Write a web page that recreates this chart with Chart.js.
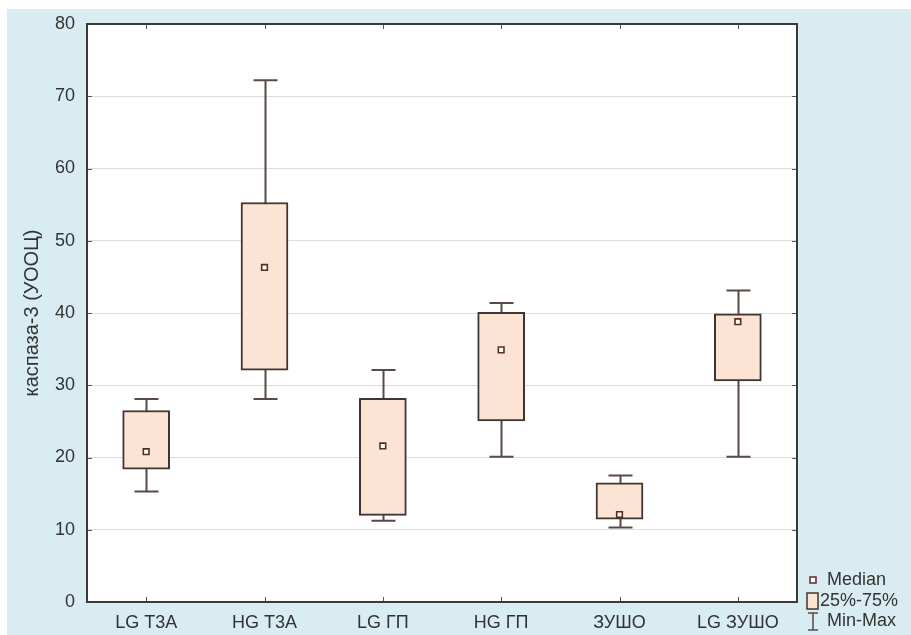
<!DOCTYPE html>
<html>
<head>
<meta charset="utf-8">
<script src="https://cdn.jsdelivr.net/npm/chart.js@4.4.1/dist/chart.umd.min.js"></script>
<style>
  html, body { margin: 0; padding: 0; background: #ffffff; }
  #c { display: block; }
</style>
</head>
<body>
<canvas id="c" width="911" height="635"></canvas>
<script>
// Groups and their summary statistics (каспаза-3, УООЦ)
const categories = ['LG T3A', 'HG T3A', 'LG ГП', 'HG ГП', 'ЗУШО', 'LG ЗУШО'];
const minValues    = [15.3, 28.1, 11.25, 20.1, 10.3, 20.1];
const q1Values     = [18.4, 32.1, 12.0, 25.05, 11.45, 30.6];
const medianValues = [20.8, 46.3, 21.6, 34.9, 12.1, 38.8];
const q3Values     = [26.5, 55.3, 28.2, 40.1, 16.5, 39.9];
const maxValues    = [28.1, 72.2, 32.1, 41.4, 17.5, 43.1];
const yTicks = [0, 10, 20, 30, 40, 50, 60, 70, 80];

const FONT = "'Liberation Sans', Arial, sans-serif";
const BOX_FILL = '#fce4d5';
const BOX_EDGE = '#3f3633';
const WHISKER = '#5a4a46';
const MEDIAN_EDGE = '#5b2b1f';

// Page background: white margin strip with a pale blue field
const backgroundPlugin = {
  id: 'background',
  beforeDraw(chart) {
    const ctx = chart.ctx;
    ctx.save();
    ctx.fillStyle = '#ffffff';
    ctx.fillRect(0, 0, chart.width, chart.height);
    ctx.fillStyle = '#d9ecf2';
    ctx.fillRect(7, 9, chart.width - 7, chart.height - 9);
    const a = chart.chartArea;
    ctx.fillStyle = '#ffffff';
    ctx.fillRect(a.left, a.top, a.right - a.left, a.bottom - a.top);
    ctx.restore();
  }
};

// Whiskers (min–max) with caps, drawn beneath the boxes
const whiskerPlugin = {
  id: 'whiskers',
  beforeDatasetsDraw(chart) {
    const ctx = chart.ctx;
    const xs = chart.scales.x, ys = chart.scales.y;
    ctx.save();
    ctx.strokeStyle = WHISKER;
    ctx.lineWidth = 2;
    categories.forEach((c, i) => {
      const x = Math.round(xs.getPixelForValue(i)) + 0.5;
      const yMin = ys.getPixelForValue(minValues[i]);
      const yMax = ys.getPixelForValue(maxValues[i]);
      ctx.beginPath();
      ctx.moveTo(x, yMax); ctx.lineTo(x, yMin);
      ctx.moveTo(x - 12, yMax); ctx.lineTo(x + 12, yMax);
      ctx.moveTo(x - 12, yMin); ctx.lineTo(x + 12, yMin);
      ctx.stroke();
    });
    ctx.restore();
  }
};

// Plot frame with inward tick marks on all four sides, plus the key
const framePlugin = {
  id: 'frame',
  afterDraw(chart) {
    const ctx = chart.ctx;
    const a = chart.chartArea;
    const xs = chart.scales.x, ys = chart.scales.y;
    ctx.save();
    ctx.strokeStyle = '#555555';
    ctx.lineWidth = 1;
    ctx.beginPath();
    yTicks.forEach(v => {
      const y = Math.round(ys.getPixelForValue(v)) + 0.5;
      ctx.moveTo(a.left, y); ctx.lineTo(a.left + 5, y);
      ctx.moveTo(a.right - 5, y); ctx.lineTo(a.right, y);
    });
    categories.forEach((c, i) => {
      const x = Math.round(xs.getPixelForValue(i)) + 0.5;
      ctx.moveTo(x, a.top); ctx.lineTo(x, a.top + 5);
      ctx.moveTo(x, a.bottom - 5); ctx.lineTo(x, a.bottom);
    });
    ctx.stroke();

    ctx.strokeStyle = '#3a3a3a';
    ctx.lineWidth = 2;
    ctx.strokeRect(a.left, a.top, a.right - a.left, a.bottom - a.top);

    // Key
    const kx = 813;
    ctx.lineWidth = 1.5;
    ctx.fillStyle = '#ffffff';
    ctx.strokeStyle = MEDIAN_EDGE;
    ctx.fillRect(kx - 3, 577, 6, 6);
    ctx.strokeRect(kx - 3, 577, 6, 6);

    ctx.fillStyle = BOX_FILL;
    ctx.strokeStyle = BOX_EDGE;
    ctx.fillRect(kx - 6, 593, 11, 16);
    ctx.strokeRect(kx - 6, 593, 11, 16);

    ctx.strokeStyle = WHISKER;
    ctx.beginPath();
    ctx.moveTo(kx - 5, 613); ctx.lineTo(kx + 5, 613);
    ctx.moveTo(kx, 613); ctx.lineTo(kx, 630);
    ctx.moveTo(kx - 5, 630); ctx.lineTo(kx + 5, 630);
    ctx.stroke();

    ctx.fillStyle = '#333333';
    ctx.font = '18px ' + FONT;
    ctx.textBaseline = 'middle';
    ctx.textAlign = 'left';
    ctx.fillText('Median', 827, 580);
    ctx.fillText('25%-75%', 820, 601);
    ctx.fillText('Min-Max', 827, 621);
    ctx.restore();
  }
};

new Chart(document.getElementById('c'), {
  type: 'bar',
  data: {
    labels: categories,
    datasets: [
      {
        type: 'line',
        label: 'Median',
        data: medianValues,
        showLine: false,
        pointStyle: 'rect',
        pointRadius: 4,
        pointBackgroundColor: '#ffffff',
        pointBorderColor: MEDIAN_EDGE,
        pointBorderWidth: 1.6,
        order: 1
      },
      {
        label: '25%-75%',
        data: categories.map((c, i) => [q1Values[i], q3Values[i]]),
        backgroundColor: BOX_FILL,
        borderColor: BOX_EDGE,
        borderWidth: 2,
        borderSkipped: false,
        barThickness: 47,
        grouped: false,
        order: 2
      }
    ]
  },
  plugins: [backgroundPlugin, whiskerPlugin, framePlugin],
  options: {
    responsive: false,
    animation: false,
    devicePixelRatio: 1,
    layout: { padding: { top: 24, right: 114, left: 0, bottom: 0 } },
    plugins: { legend: { display: false }, tooltip: { enabled: false } },
    scales: {
      x: {
        offset: true,
        grid: { display: false },
        border: { display: false },
        ticks: { color: '#333333', font: { family: FONT, size: 18 }, padding: 2 },
        afterFit(scale) { scale.height = 33; }
      },
      y: {
        min: 0,
        max: 80,
        afterBuildTicks(scale) { scale.ticks = yTicks.map(v => ({ value: v })); },
        grid: { color: '#dcdcdc', drawTicks: false, lineWidth: 1 },
        border: { display: false },
        ticks: { color: '#333333', font: { family: FONT, size: 18 }, padding: 12 },
        title: {
          display: true,
          text: 'каспаза-3 (УООЦ)',
          color: '#333333',
          font: { family: FONT, size: 20 },
          padding: { top: 20, bottom: 0 }
        },
        afterFit(scale) { scale.width = 87; }
      }
    }
  }
});
</script>
</body>
</html>
